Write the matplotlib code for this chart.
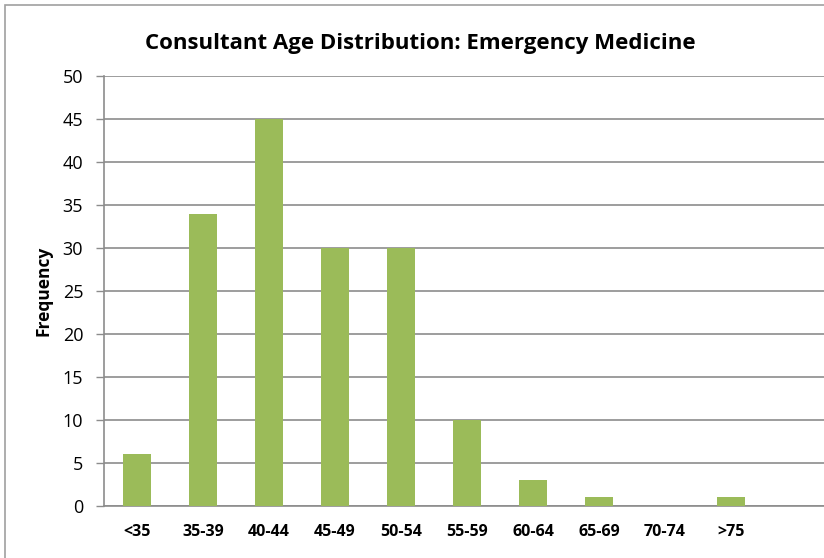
import matplotlib.pyplot as plt
from matplotlib.patches import Rectangle

categories = ["<35", "35-39", "40-44", "45-49", "50-54", "55-59",
              "60-64", "65-69", "70-74", ">75"]
frequency = [6, 34, 45, 30, 30, 10, 3, 1, 0, 1]
y_ticks = list(range(0, 51, 5))

BAR_COLOR = "#9BBB59"
GRID_COLOR = "#8C8C8C"
FONT = ["Open Sans", "DejaVu Sans"]

W, H = 824, 558
fig = plt.figure(figsize=(W / 100, H / 100), dpi=100)

# chart frame (cropped at right / bottom like the original)
fig.patches.append(Rectangle((5 / W, -0.1), 1.1, 1 - 5 / H + 0.1,
                             transform=fig.transFigure, fill=False,
                             edgecolor="#A0A0A0", linewidth=1.2))

left, right, top, bottom = 104, 824, 76, 506
ax = fig.add_axes([left / W, 1 - bottom / H, (right - left) / W, (bottom - top) / H])

x = list(range(len(categories)))
ax.bar(x, frequency, width=0.41, color=BAR_COLOR, zorder=3)

slot = 66.0
ax.set_xlim(-0.5, -0.5 + (right - left) / slot)
ax.set_ylim(0, 50)
ax.set_yticks(y_ticks)
ax.set_xticks(x)
ax.set_xticklabels(categories, fontweight="bold", fontsize=11.5, family=FONT)
for lab in ax.get_yticklabels():
    lab.set_family(FONT)
ax.tick_params(axis="y", labelsize=13, length=6, width=1, color=GRID_COLOR, pad=9)
ax.tick_params(axis="x", length=0, pad=13)

ax.grid(True, axis="y", color=GRID_COLOR, linewidth=1.2, zorder=0)
ax.set_axisbelow(True)
for side in ("top", "right"):
    ax.spines[side].set_visible(False)
for side in ("left", "bottom"):
    ax.spines[side].set_color(GRID_COLOR)
    ax.spines[side].set_linewidth(1.2)

fig.text(420 / W, 1 - 44 / H, "Consultant Age Distribution: Emergency Medicine",
         ha="center", va="center", fontsize=16, fontweight="bold", family=FONT)
fig.text(44 / W, 1 - 291 / H, "Frequency", rotation=90, ha="center", va="center",
         fontsize=12.5, fontweight="bold", family=FONT)

fig.savefig("out.png", dpi=100)
